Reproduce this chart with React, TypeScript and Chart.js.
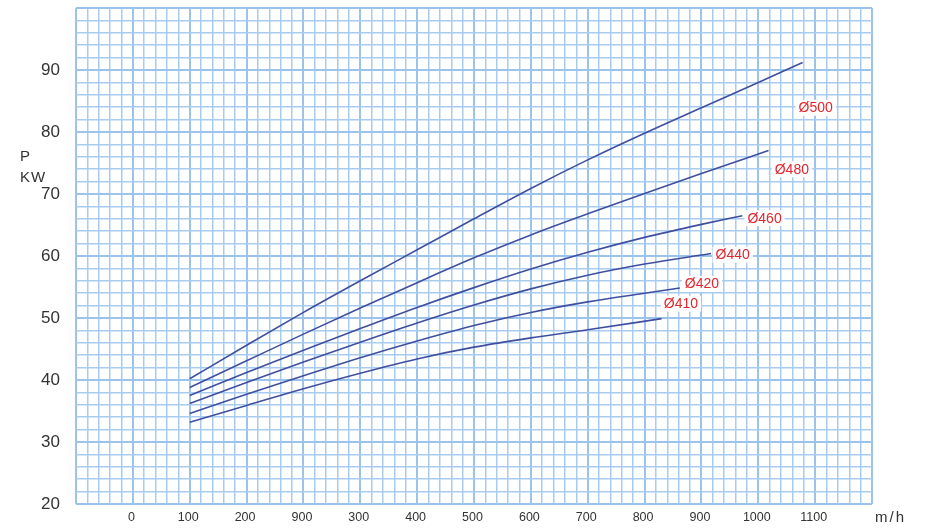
import React, { useEffect, useRef } from 'react';
import { Chart, registerables } from 'chart.js';

Chart.register(...registerables);

// X tick labels as printed under the major grid lines (index k sits at axis position k*100)
const xTickLabels = ['0', '100', '200', '900', '300', '400', '500', '600', '700', '800', '900', '1000', '1100'];
const xUnit = 'm/h';
const yUnitTop = 'P';
const yUnitBottom = 'KW';

// Curves (x = position along the axis, y = power in kW)
const seriesNames = ['Ø500', 'Ø480', 'Ø460', 'Ø440', 'Ø420', 'Ø410'];

const flowD500 = [100, 200, 300, 400, 500, 600, 700, 800, 900, 1000, 1100, 1178];
const powerD500 = [40.2, 45.6, 50.9, 56.0, 61.0, 66.0, 70.9, 75.5, 79.8, 83.9, 88.0, 91.2];

const flowD480 = [100, 200, 300, 400, 500, 600, 700, 800, 900, 1000, 1118];
const powerD480 = [38.8, 43.1, 47.4, 51.6, 55.7, 59.7, 63.4, 66.8, 70.1, 73.3, 77.0];

const flowD460 = [100, 200, 300, 400, 500, 600, 700, 800, 900, 1000, 1072];
const powerD460 = [37.5, 41.2, 44.8, 48.3, 51.7, 54.9, 57.9, 60.6, 63.0, 65.1, 66.5];

const flowD440 = [100, 200, 300, 400, 500, 600, 700, 800, 900, 1017];
const powerD440 = [36.2, 39.6, 42.9, 46.1, 49.2, 52.1, 54.7, 56.9, 58.7, 60.4];

const flowD420 = [100, 200, 300, 400, 500, 600, 700, 800, 900, 962];
const powerD420 = [34.6, 37.7, 40.7, 43.6, 46.3, 48.8, 50.9, 52.6, 54.0, 54.85];

const flowD410 = [100, 200, 300, 400, 500, 600, 700, 800, 930];
const powerD410 = [33.2, 35.9, 38.6, 41.1, 43.4, 45.3, 46.8, 48.1, 49.9];

// Curve label anchors (axis units)
const labelFlow = [1201, 1159, 1111, 1055, 1001, 964];
const labelPower = [83.9, 74.0, 66.1, 60.2, 55.5, 52.3];

const flows = [flowD500, flowD480, flowD460, flowD440, flowD420, flowD410];
const powers = [powerD500, powerD480, powerD460, powerD440, powerD420, powerD410];

const GRID_MINOR = '#a8ccef';
const GRID_MAJOR = '#9cc3ec';
const LINE_COLOR = '#3f4f9f';
const LABEL_RED = '#e3262e';
const TEXT_COLOR = '#333333';
const FONT = '"Liberation Sans", Arial, sans-serif';

const annotatePlugin = {
  id: 'annotate',
  afterDatasetsDraw(chart: any) {
    const { ctx, scales } = chart;
    const xs = scales.x;
    const ys = scales.y;
    ctx.save();
    ctx.font = `14px ${FONT}`;
    ctx.textAlign = 'center';
    ctx.textBaseline = 'middle';
    seriesNames.forEach((name, i) => {
      const px = xs.getPixelForValue(labelFlow[i]);
      const py = ys.getPixelForValue(labelPower[i]);
      const w = ctx.measureText(name).width;
      ctx.fillStyle = '#ffffff';
      ctx.fillRect(px - w / 2 - 3, py - 8, w + 6, 16);
      ctx.fillStyle = LABEL_RED;
      ctx.fillText(name, px, py + 0.5);
    });
    ctx.restore();
  },
  afterDraw(chart: any) {
    const { ctx, chartArea } = chart;
    ctx.save();
    ctx.fillStyle = TEXT_COLOR;
    ctx.textAlign = 'left';
    ctx.textBaseline = 'middle';
    ctx.font = `15px ${FONT}`;
    ctx.fillText(yUnitTop, 20, 157);
    (ctx as any).letterSpacing = '1px';
    ctx.fillText(yUnitBottom, 20, 178);
    (ctx as any).letterSpacing = '2px';
    ctx.fillText(xUnit, chartArea.right + 3, 518);
    ctx.restore();
  },
};

export default function App() {
  const ref = useRef<HTMLCanvasElement | null>(null);

  useEffect(() => {
    if (!ref.current) return;
    const datasets = seriesNames.map((name, i) => ({
      label: name,
      data: flows[i].map((f, j) => ({ x: f, y: powers[i][j] })),
      borderColor: LINE_COLOR,
      backgroundColor: LINE_COLOR,
      borderWidth: 1.6,
      pointRadius: 0,
      fill: false,
      cubicInterpolationMode: 'monotone' as const,
    }));

    const chart = new Chart(ref.current, {
      type: 'line',
      data: { datasets },
      options: {
        animation: false,
        responsive: true,
        maintainAspectRatio: false,
        layout: { padding: { top: 8, right: 60, left: 0, bottom: 0 } },
        plugins: {
          legend: { display: false },
          tooltip: { enabled: false },
        },
        scales: {
          x: {
            type: 'linear',
            min: -100,
            max: 1300,
            afterFit: (s: any) => {
              s.height = 25;
              s.paddingLeft = 0;
              s.paddingRight = 0;
            },
            border: { display: false },
            grid: {
              drawTicks: false,
              color: (c: any) => (Math.round(c.tick.value) % 100 === 0 ? GRID_MAJOR : GRID_MINOR),
              lineWidth: (c: any) => (Math.round(c.tick.value) % 100 === 0 ? 2 : 1.5),
            },
            ticks: {
              stepSize: 20,
              autoSkip: false,
              maxRotation: 0,
              padding: 6,
              labelOffset: -1.5,
              color: TEXT_COLOR,
              font: { family: FONT, size: 12.5 },
              callback: (v: any) => {
                const n = Math.round(Number(v));
                if (n < 0 || n % 100 !== 0) return '';
                return xTickLabels[n / 100] ?? '';
              },
            },
          },
          y: {
            type: 'linear',
            min: 20,
            max: 100,
            afterFit: (s: any) => {
              s.width = 76;
              s.paddingTop = 0;
              s.paddingBottom = 0;
            },
            border: { display: false },
            grid: {
              drawTicks: false,
              color: (c: any) => (Math.round(c.tick.value) % 10 === 0 ? GRID_MAJOR : GRID_MINOR),
              lineWidth: (c: any) => (Math.round(c.tick.value) % 10 === 0 ? 2 : 1.5),
            },
            ticks: {
              stepSize: 2,
              autoSkip: false,
              padding: 16,
              color: TEXT_COLOR,
              font: { family: FONT, size: 17 },
              callback: (v: any) => {
                const n = Math.round(Number(v));
                if (n % 10 !== 0 || n >= 100) return '';
                return String(n);
              },
            },
          },
        },
      },
      plugins: [annotatePlugin],
    });
    return () => chart.destroy();
  }, []);

  return (
    <div style={{ position: 'absolute', left: 0, top: 0, width: 932, height: 529, background: '#fff' }}>
      <canvas ref={ref} />
    </div>
  );
}
